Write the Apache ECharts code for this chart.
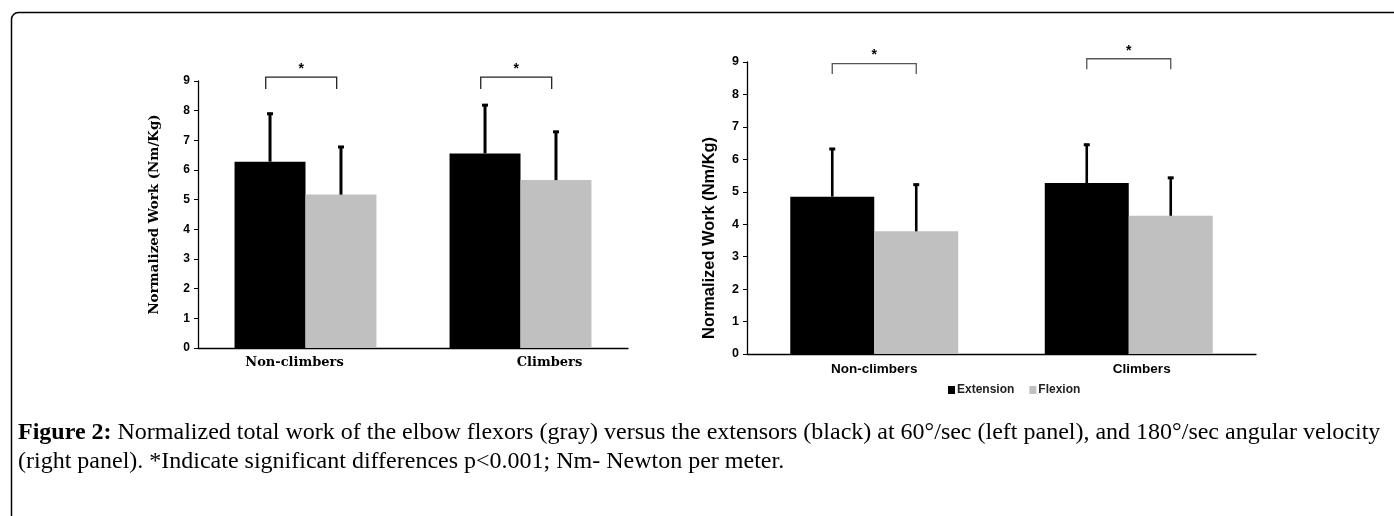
<!DOCTYPE html>
<html>
<head>
<meta charset="utf-8">
<script src="https://cdn.jsdelivr.net/npm/echarts@6/dist/echarts.min.js"></script>
<style>
  html, body { margin: 0; padding: 0; background: #fff; }
  #main { width: 1394px; height: 516px; }
</style>
</head>
<body>
<div id="main"></div>
<script>
// data
const categories = ['Non-climbers', 'Climbers'];
const seriesNames = ['Extension', 'Flexion'];
const yTicks = [0, 9, 1]; // min, max, step

// left panel: 60 deg/sec
const extL = [6.28, 6.56];
const extErrL = [1.65, 1.66];
const flexL = [5.17, 5.66];
const flexErrL = [1.64, 1.66];
const sigL = [9.13, 9.13];

// right panel: 180 deg/sec
const extR = [4.85, 5.27];
const extErrR = [1.50, 1.21];
const flexR = [3.78, 4.26];
const flexErrR = [1.47, 1.20];
const sigR = [8.95, 9.10];

const captionBold = 'Figure 2:';
const captionLine1 = ' Normalized total work of the elbow flexors (gray) versus the extensors (black) at 60°/sec (left panel), and 180°/sec angular velocity';
const captionLine2 = '(right panel). *Indicate significant differences p<0.001; Nm- Newton per meter.';

const BAR_FRAC = 0.33;
const GRAY = '#c0c0c0';

const chart = echarts.init(document.getElementById('main'));

const errRender = lw => (params, api) => {
  const x = api.value(0), v = api.value(1), e = api.value(2), side = api.value(3);
  const bandW = api.size([1, 0])[0];
  const p0 = api.coord([x, v]);
  const p1 = api.coord([x, v + e]);
  const cx = p0[0] + side * bandW * BAR_FRAC / 2;
  return {
    type: 'group',
    children: [
      { type: 'line', shape: { x1: cx, y1: p0[1], x2: cx, y2: p1[1] }, style: { stroke: '#000', lineWidth: lw } },
      { type: 'line', shape: { x1: cx - 3, y1: p1[1] + 1, x2: cx + 3, y2: p1[1] + 1 }, style: { stroke: '#000', lineWidth: 3 } },
    ],
  };
};

// bracket + star over the two bars of a group; shift nudges it sideways (fraction of band)
const sigRender = (color, drop, shift) => (params, api) => {
  const x = api.value(0), lv = api.value(1);
  const bandW = api.size([1, 0])[0];
  const top = api.coord([x, lv]);
  const bot = api.coord([x, lv - drop]);
  const cx = top[0] + bandW * shift;
  const xl = cx - bandW * BAR_FRAC / 2;
  const xr = cx + bandW * BAR_FRAC / 2;
  return {
    type: 'group',
    children: [
      {
        type: 'polyline',
        shape: { points: [[xl, bot[1]], [xl, top[1]], [xr, top[1]], [xr, bot[1]]] },
        style: { stroke: color, lineWidth: 1.3, fill: null },
      },
      {
        type: 'text',
        x: cx, y: top[1] - 1,
        style: { text: '*', fill: '#000', font: 'bold 14px "Liberation Sans"', align: 'center', verticalAlign: 'bottom' },
      },
    ],
  };
};

const errData = (vals, errs, side) => vals.map((v, i) => [i, v, errs[i], side]);
const sigData = lv => lv.map((l, i) => [i, l]);

const yAxisBase = (idx, nameFont, nameSize, nameGap, namePad, labelSize) => ({
  type: 'value',
  gridIndex: idx,
  min: yTicks[0], max: yTicks[1], interval: yTicks[2],
  name: 'Normalized Work (Nm/Kg)',
  nameLocation: 'middle',
  nameGap: nameGap,
  nameTextStyle: { fontFamily: nameFont, fontWeight: 'bold', fontSize: nameSize, color: '#000', padding: namePad },
  axisLine: { show: true, lineStyle: { color: '#000', width: 1.3 } },
  axisTick: { show: true, length: 4, lineStyle: { color: '#000' } },
  axisLabel: { fontFamily: 'Liberation Sans', fontWeight: 'bold', fontSize: labelSize, color: '#000', margin: 8 },
  splitLine: { show: false },
});

const option = {
  animation: false,
  backgroundColor: '#fff',
  grid: [
    { left: 198, top: 81, width: 430, height: 267 },
    { left: 747, top: 62, width: 509, height: 292 },
  ],
  legend: {
    data: seriesNames,
    left: 943, top: 379,
    itemWidth: 7, itemHeight: 8, itemGap: 15,
    icon: 'rect',
    textStyle: { fontFamily: 'Liberation Sans', fontWeight: 'bold', fontSize: 12, color: '#222', padding: [0, 0, 0, -3] },
  },
  xAxis: [
    {
      type: 'category', gridIndex: 0, data: categories,
      axisLine: { lineStyle: { color: '#000', width: 1.3 } },
      axisTick: { length: 4, lineStyle: { color: '#000' } },
      axisLabel: {
        margin: 8, color: '#000',
        formatter: (v, i) => (i === 0 ? '{a|' + v + '}' : '{b|' + v + '}'),
        rich: {
          a: { fontFamily: 'DejaVu Serif', fontWeight: 'bold', fontSize: 13, color: '#000', padding: [0, 22, 0, 0] },
          b: { fontFamily: 'DejaVu Serif', fontWeight: 'bold', fontSize: 13, color: '#000', padding: [0, 0, 0, 58] },
        },
      },
    },
    {
      type: 'category', gridIndex: 1, data: categories,
      axisLine: { lineStyle: { color: '#000', width: 1.3 } },
      axisTick: { length: 4, lineStyle: { color: '#000' } },
      axisLabel: {
        margin: 8, color: '#000',
        formatter: (v, i) => (i === 0 ? '{a|' + v + '}' : '{b|' + v + '}'),
        rich: {
          a: { fontFamily: 'Liberation Sans', fontWeight: 'bold', fontSize: 13.5, color: '#000' },
          b: { fontFamily: 'Liberation Sans', fontWeight: 'bold', fontSize: 13.5, color: '#000', padding: [0, 0, 0, 26] },
        },
      },
    },
  ],
  yAxis: [
    yAxisBase(0, 'DejaVu Serif', 13.4, 37, 0, 12),
    yAxisBase(1, 'Liberation Sans', 16.4, 30, [0, 60, 0, 0], 12.5),
  ],
  series: [
    { name: seriesNames[0], type: 'bar', xAxisIndex: 0, yAxisIndex: 0, data: extL, barWidth: '33%', barGap: '0%', itemStyle: { color: '#000' } },
    { name: seriesNames[1], type: 'bar', xAxisIndex: 0, yAxisIndex: 0, data: flexL, barWidth: '33%', barGap: '0%', itemStyle: { color: GRAY } },
    { name: seriesNames[0], type: 'bar', xAxisIndex: 1, yAxisIndex: 1, data: extR, barWidth: '33%', barGap: '0%', itemStyle: { color: '#000' } },
    { name: seriesNames[1], type: 'bar', xAxisIndex: 1, yAxisIndex: 1, data: flexR, barWidth: '33%', barGap: '0%', itemStyle: { color: GRAY } },
    { type: 'custom', xAxisIndex: 0, yAxisIndex: 0, renderItem: errRender(3), data: errData(extL, extErrL, -1), z: 5 },
    { type: 'custom', xAxisIndex: 0, yAxisIndex: 0, renderItem: errRender(3), data: errData(flexL, flexErrL, 1), z: 5 },
    { type: 'custom', xAxisIndex: 1, yAxisIndex: 1, renderItem: errRender(2.6), data: errData(extR, extErrR, -1), z: 5 },
    { type: 'custom', xAxisIndex: 1, yAxisIndex: 1, renderItem: errRender(2.6), data: errData(flexR, flexErrR, 1), z: 5 },
    { type: 'custom', xAxisIndex: 0, yAxisIndex: 0, renderItem: sigRender('#222', 0.4, -0.02), data: sigData(sigL), z: 5 },
    { type: 'custom', xAxisIndex: 1, yAxisIndex: 1, renderItem: sigRender('#555', 0.32, 0), data: sigData(sigR), z: 5 },
  ],
  graphic: [
    {
      type: 'rect',
      shape: { x: 11.5, y: 12.5, width: 1420, height: 600, r: 7 },
      style: { stroke: '#000', lineWidth: 1.5, fill: null },
      silent: true,
    },
    {
      type: 'text', left: 18, top: 421,
      style: {
        text: '{b|' + captionBold + '}{n|' + captionLine1 + '}',
        rich: {
          b: { fontFamily: 'Liberation Serif', fontWeight: 'bold', fontSize: 24, fill: '#000' },
          n: { fontFamily: 'Liberation Serif', fontSize: 24, fill: '#000' },
        },
      },
    },
    {
      type: 'text', left: 18, top: 450,
      style: { text: captionLine2, font: '24px "Liberation Serif"', fill: '#000' },
    },
  ],
};

chart.setOption(option);
</script>
</body>
</html>
